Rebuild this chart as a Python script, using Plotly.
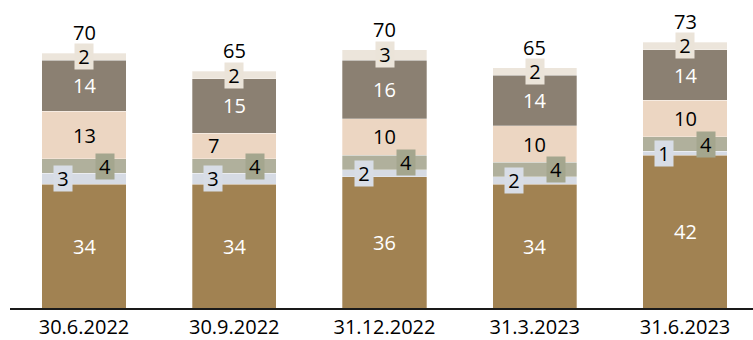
import plotly.graph_objects as go

categories = ["30.6.2022", "30.9.2022", "31.12.2022", "31.3.2023", "31.6.2023"]
seg_base = [34, 34, 36, 34, 42]
seg_blue = [3, 3, 2, 2, 1]
seg_green = [4, 4, 4, 4, 4]
seg_peach = [13, 7, 10, 10, 10]
seg_taupe = [14, 15, 16, 14, 14]
seg_cream = [2, 2, 3, 2, 2]
totals = [70, 65, 70, 65, 73]

series = [seg_base, seg_blue, seg_green, seg_peach, seg_taupe, seg_cream]
colors = ["#A18252", "#D6DBE4", "#B0B09C", "#ECD6C2", "#8B8072", "#ECE5DB"]
text_colors = ["white", "black", "black", "black", "white", "black"]
box_colors = [None, "#D8DDE6", "#A4A68E", None, None, "#EBE4D9"]
x_shifts = [0, -21, 21, 0, 0, 0]

FONT = "Open Sans"
FS = 20

fig = go.Figure()
for vals, col in zip(series, colors):
    fig.add_trace(go.Bar(
        x=categories, y=vals, marker=dict(color=col, line=dict(color="rgba(255,255,255,0.6)", width=0.5)),
        width=0.56, hoverinfo="skip", showlegend=False,
    ))

annotations = []
for i, cat in enumerate(categories):
    base = 0
    for j, vals in enumerate(series):
        v = vals[i]
        yc = base + v / 2
        base += v
        xs = x_shifts[j]
        if j == 3 and v < 9:
            xs = -21
        ann = dict(x=cat, y=yc, xref="x", yref="y", text=str(v), showarrow=False,
                   xshift=xs, font=dict(family=FONT, size=FS, color=text_colors[j]),
                   xanchor="center", yanchor="middle")
        if box_colors[j]:
            ann.update(bgcolor=box_colors[j], width=18, height=25, borderpad=0)
        annotations.append(ann)
    annotations.append(dict(x=cat, y=base, xref="x", yref="y", text=str(totals[i]),
                            showarrow=False, yshift=21, yanchor="middle", height=18,
                            font=dict(family=FONT, size=FS, color="black")))

fig.update_layout(
    width=753, height=340,
    margin=dict(l=10, r=0, t=0, b=32),
    barmode="stack", bargap=0.44,
    plot_bgcolor="white", paper_bgcolor="white",
    font=dict(family=FONT, size=FS, color="black"),
    annotations=annotations,
    xaxis=dict(type="category", range=[-0.4925, 4.4526], showline=True, linecolor="#1a1a1a",
               linewidth=2, ticks="", showgrid=False, zeroline=False, automargin=False,
               tickfont=dict(family=FONT, size=FS, color="black")),
    yaxis=dict(range=[0, 84.6], visible=False, showgrid=False, zeroline=False),
)

fig.write_html("out.html", config={"displayModeBar": False, "staticPlot": True},
               post_script="document.body.style.margin='0';document.body.style.overflow='hidden';")
